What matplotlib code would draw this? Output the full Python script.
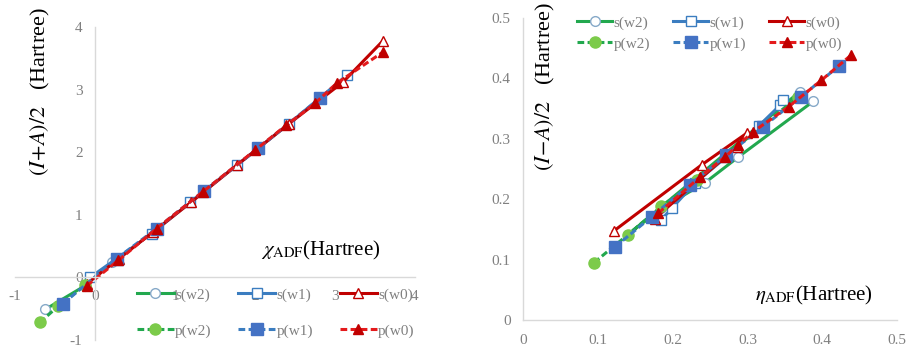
import matplotlib
matplotlib.use("Agg")
import matplotlib.pyplot as plt

plt.rcParams['font.family'] = ['Liberation Serif', 'DejaVu Serif']
plt.rcParams['mathtext.fontset'] = 'stix'

# ---------------- data: left panel (chi) ----------------
L_sw2_x = [-0.62, -0.12, 0.21]
L_sw2_y = [-0.51, -0.13, 0.24]
L_pw2_x = [-0.69, -0.46, -0.12]
L_pw2_y = [-0.72, -0.46, -0.12]
L_sw1_x = [-0.06, 0.27, 0.71, 1.19, 1.77, 2.42, 3.15]
L_sw1_y = [0.0, 0.30, 0.70, 1.20, 1.79, 2.45, 3.23]
L_pw1_x = [-0.40, 0.27, 0.77, 1.36, 2.04, 2.81]
L_pw1_y = [-0.42, 0.30, 0.78, 1.38, 2.06, 2.86]
L_sw0_x = [-0.10, 0.30, 0.72, 1.20, 1.78, 2.42, 3.10, 3.60]
L_sw0_y = [-0.10, 0.30, 0.72, 1.20, 1.80, 2.45, 3.12, 3.78]
L_pw0_x = [-0.10, 0.29, 0.77, 1.35, 2.00, 2.39, 2.75, 3.02, 3.60]
L_pw0_y = [-0.13, 0.27, 0.78, 1.37, 2.03, 2.43, 2.78, 3.10, 3.60]

# ---------------- data: right panel (eta) ----------------
R_sw2_x = [0.370, 0.140, 0.185, 0.243, 0.288, 0.388]
R_sw2_y = [0.378, 0.141, 0.185, 0.227, 0.270, 0.362]
R_pw2_x = [0.095, 0.140, 0.185, 0.232, 0.368]
R_pw2_y = [0.095, 0.141, 0.188, 0.232, 0.370]
R_sw1_x = [0.185, 0.199, 0.230, 0.272, 0.315, 0.344, 0.348]
R_sw1_y = [0.166, 0.185, 0.227, 0.270, 0.321, 0.356, 0.365]
R_pw1_x = [0.123, 0.172, 0.223, 0.272, 0.321, 0.372, 0.422]
R_pw1_y = [0.121, 0.171, 0.224, 0.273, 0.320, 0.370, 0.420]
R_sw0_x = [0.121, 0.239, 0.300, 0.286, 0.176]
R_sw0_y = [0.147, 0.257, 0.310, 0.287, 0.168]
R_pw0_x = [0.181, 0.237, 0.270, 0.288, 0.308, 0.355, 0.399, 0.439]
R_pw0_y = [0.177, 0.237, 0.270, 0.290, 0.312, 0.353, 0.397, 0.439]

L_xticks = [-1, 0, 1, 2, 3, 4]
L_yticks = [-1, 0, 1, 2, 3, 4]
R_xticks = [0, 0.1, 0.2, 0.3, 0.4, 0.5]
R_yticks = [0, 0.1, 0.2, 0.3, 0.4, 0.5]

GREEN = '#22A84E'
GREEN_FILL = '#7CCB4A'
CIRC_EDGE = '#86A9C8'
BLUE = '#3B7DC0'
BLUE_FILL = '#4472C4'
DRED = '#C00000'
RED = '#E41A1C'
TICKC = '#808080'
SPINEC = '#D9D9D9'

LW = 2.2
DASH = (0, (2.2, 1.1))

def draw(ax, d):
    (sw2x, sw2y, pw2x, pw2y, sw1x, sw1y, pw1x, pw1y, sw0x, sw0y, pw0x, pw0y) = d
    h = {}
    h['s(w2)'], = ax.plot(sw2x, sw2y, color=GREEN, lw=LW, marker='o', ms=7,
                          mfc='white', mec=CIRC_EDGE, mew=1.0, label='s(w2)')
    h['s(w1)'], = ax.plot(sw1x, sw1y, color=BLUE, lw=LW, marker='s', ms=7,
                          mfc='white', mec=BLUE, mew=1.0, label='s(w1)')
    h['s(w0)'], = ax.plot(sw0x, sw0y, color=DRED, lw=LW, marker='^', ms=7,
                          mfc='white', mec=DRED, mew=1.0, label='s(w0)')
    h['p(w2)'], = ax.plot(pw2x, pw2y, color=GREEN, lw=LW, ls=DASH, marker='o', ms=8,
                          mfc=GREEN_FILL, mec=GREEN_FILL, label='p(w2)')
    h['p(w1)'], = ax.plot(pw1x, pw1y, color=BLUE, lw=LW, ls=DASH, marker='s', ms=8,
                          mfc=BLUE_FILL, mec=BLUE_FILL, label='p(w1)')
    h['p(w0)'], = ax.plot(pw0x, pw0y, color=RED, lw=LW, ls=DASH, marker='^', ms=7,
                          mfc=DRED, mec=DRED, label='p(w0)')
    order = ['s(w2)', 'p(w2)', 's(w1)', 'p(w1)', 's(w0)', 'p(w0)']
    return [h[k] for k in order], order

def style(ax):
    for s in ['top', 'right']:
        ax.spines[s].set_visible(False)
    for s in ['left', 'bottom']:
        ax.spines[s].set_color(SPINEC)
        ax.spines[s].set_linewidth(1.0)
    ax.tick_params(length=0, labelsize=11, labelcolor=TICKC)

fig = plt.figure(figsize=(9.07, 3.5), dpi=100)

# ---- left ----
ax1 = fig.add_axes([15/907, 10/350, 400/907, 313/350])
hs, labs = draw(ax1, (L_sw2_x, L_sw2_y, L_pw2_x, L_pw2_y, L_sw1_x, L_sw1_y,
                      L_pw1_x, L_pw1_y, L_sw0_x, L_sw0_y, L_pw0_x, L_pw0_y))
ax1.set_xlim(-1, 4)
ax1.set_ylim(-1, 4)
ax1.spines['left'].set_position(('data', 0))
ax1.spines['bottom'].set_position(('data', 0))
style(ax1)
ax1.set_xticks(L_xticks)
ax1.set_yticks(L_yticks)
ax1.set_xticklabels([str(t) for t in L_xticks])
ax1.set_yticklabels([str(t) for t in L_yticks])
ax1.tick_params(axis='x', pad=9)
ax1.tick_params(axis='y', pad=9)
fig.text(40/907, 1 - 92/350, r'$(I\!+\!A)/2$   (Hartree)', rotation=90,
         ha='center', va='center', fontsize=16)
fig.text(321/907, 1 - 250/350, r'$\chi_{\mathrm{ADF}}$(Hartree)',
         ha='center', va='center', fontsize=15)
fig.legend(hs, labs, ncol=3, loc='upper left', bbox_to_anchor=(137/907, 1 - 288/350),
           frameon=False, fontsize=11, labelspacing=1.45, handlelength=2.4,
           handletextpad=0.1, columnspacing=1.75, borderpad=0, borderaxespad=0,
           labelcolor=TICKC)

# ---- right ----
ax2 = fig.add_axes([523/907, 30/350, 374/907, 302/350])
hs2, labs2 = draw(ax2, (R_sw2_x, R_sw2_y, R_pw2_x, R_pw2_y, R_sw1_x, R_sw1_y,
                        R_pw1_x, R_pw1_y, R_sw0_x, R_sw0_y, R_pw0_x, R_pw0_y))
ax2.set_xlim(0, 0.5)
ax2.set_ylim(0, 0.5)
style(ax2)
ax2.set_xticks(R_xticks)
ax2.set_yticks(R_yticks)
ax2.set_xticklabels(['0' if t == 0 else f'{t:.1f}' for t in R_xticks])
ax2.set_yticklabels(['0' if t == 0 else f'{t:.1f}' for t in R_yticks])
ax2.tick_params(axis='x', pad=10)
ax2.tick_params(axis='y', pad=9)
fig.text(545/907, 1 - 87/350, r'$(I\!-\!A)/2$   (Hartree)', rotation=90,
         ha='center', va='center', fontsize=16)
fig.text(814/907, 1 - 295/350, r'$\eta_{\mathrm{ADF}}$(Hartree)',
         ha='center', va='center', fontsize=15)
fig.legend(hs2, labs2, ncol=3, loc='upper left', bbox_to_anchor=(577/907, 1 - 16/350),
           frameon=False, fontsize=11, labelspacing=0.45, handlelength=2.3,
           handletextpad=0.1, columnspacing=1.5, borderpad=0, borderaxespad=0,
           labelcolor=TICKC)

fig.savefig('out.png', dpi=100, facecolor='white')
